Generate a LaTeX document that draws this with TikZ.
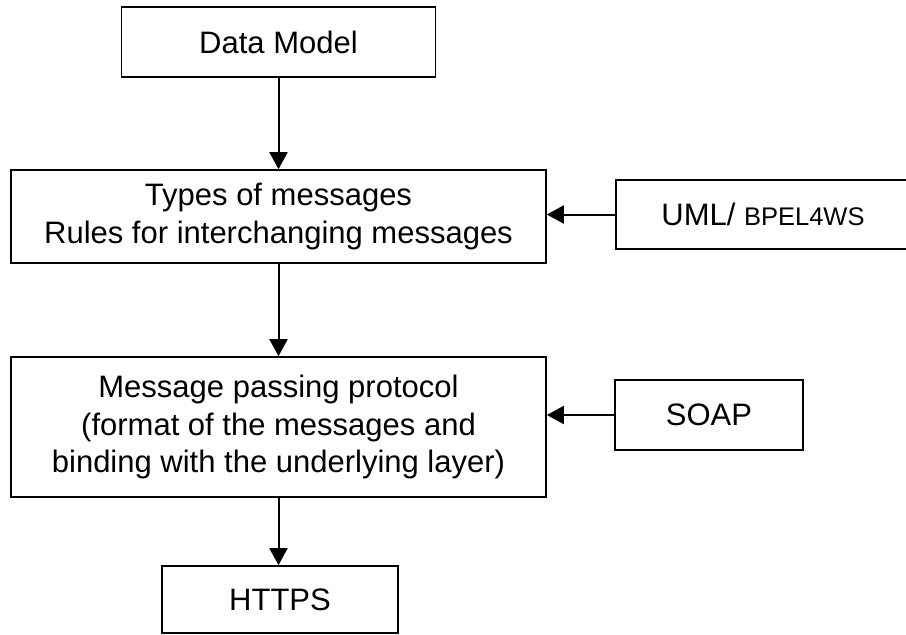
\documentclass[tikz,border=0pt]{standalone}
\usepackage{fontspec}
\setmainfont{Liberation Sans}
\usetikzlibrary{arrows.meta}
\begin{document}
\begin{tikzpicture}[x=1pt,y=-1pt,
  layerbox/.style={draw=black, line width=1.6pt, rectangle, inner sep=0pt,
    align=center, font=\fontsize{31}{37.5}\selectfont},
  flow/.style={line width=2pt, -{Triangle[width=18pt,length=17pt]}}]
  \useasboundingbox (0,0) rectangle (906,635);

  % main stack of layers
  \node[layerbox, minimum width=314pt, minimum height=70pt] (dm) at (278.5,42) {Data Model};
  \node[layerbox, minimum width=535pt, minimum height=93pt] (types) at (278.5,216.5)
    {Types of messages\\Rules for interchanging messages};
  \node[layerbox, minimum width=535pt, minimum height=140pt] (msg) at (278.5,427)
    {Message passing protocol\\(format of the messages and\\binding with the underlying layer)};
  \node[layerbox, minimum width=236pt, minimum height=67pt] (https) at (280,599.5) {HTTPS};

  % side inputs
  \node[layerbox, minimum width=294pt, minimum height=69pt] (uml) at (763,214.5)
    {UML/ {\fontsize{25.5}{30}\selectfont BPEL4WS}};
  \node[layerbox, minimum width=188pt, minimum height=70pt] (soap) at (709,415) {SOAP};

  % connectors
  \draw[flow] (dm.south) -- (types.north);
  \draw[flow] (types.south) -- (msg.north);
  \draw[flow] (msg.south) -- (msg.south |- https.north);
  \draw[flow] (uml.west) -- (uml.west -| types.east);
  \draw[flow] (soap.west) -- (soap.west -| msg.east);
\end{tikzpicture}
\end{document}
